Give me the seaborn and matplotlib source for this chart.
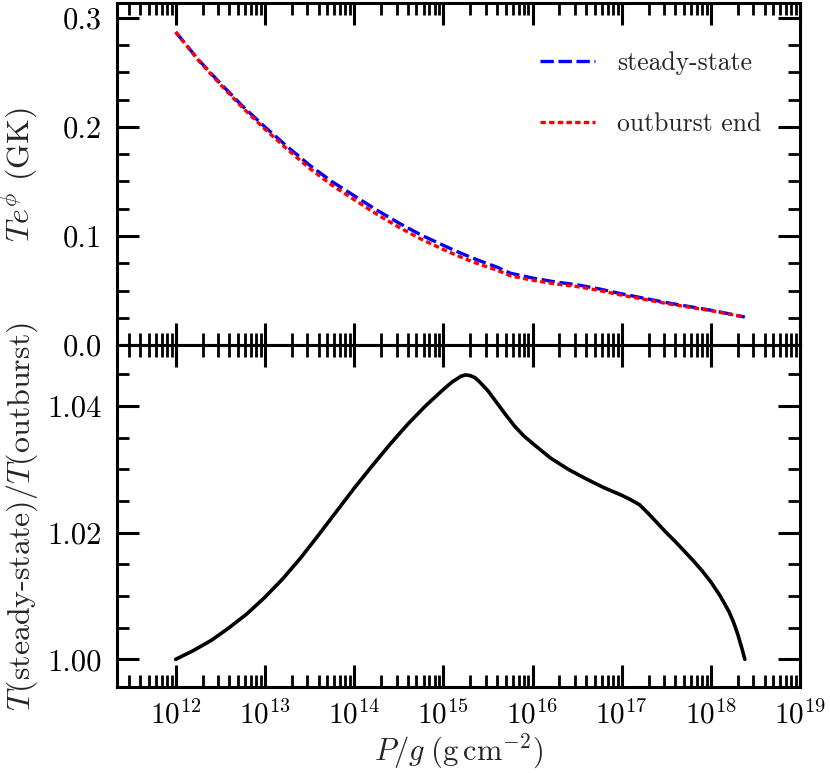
import numpy as np
import pandas as pd
import matplotlib
matplotlib.use('Agg')
import matplotlib.pyplot as plt
import matplotlib.ticker as mticker
import seaborn as sns

# top panel: log10(P/g) and T e^phi in GK
log_pg = [12.0, 12.25, 12.5, 12.75, 13.0, 13.25, 13.5, 13.75, 14.0, 14.25,
          14.5, 14.75, 15.0, 15.1, 15.2, 15.3, 15.4, 15.5, 15.6, 15.75,
          16.0, 16.25, 16.5, 16.75, 17.0, 17.2, 17.5, 17.75, 18.0, 18.1,
          18.2, 18.3, 18.38]
temp_steady = [0.287, 0.262, 0.240, 0.219, 0.200, 0.182, 0.165, 0.150, 0.137, 0.124,
               0.112, 0.101, 0.0915, 0.0878, 0.0842, 0.0808, 0.0776, 0.0745, 0.0716, 0.0660,
               0.0615, 0.0580, 0.0553, 0.0515, 0.0470, 0.0438, 0.0390, 0.0355, 0.0320, 0.0304,
               0.0288, 0.0270, 0.0258]
temp_outburst = [0.287, 0.2615, 0.239, 0.2176, 0.198, 0.1796, 0.1621, 0.1467, 0.1334, 0.1202,
                 0.1082, 0.0972, 0.0877, 0.0841, 0.0806, 0.0773, 0.0743, 0.0715, 0.0688, 0.0636,
                 0.0595, 0.0562, 0.0537, 0.0501, 0.0458, 0.0428, 0.0382, 0.0349, 0.0316, 0.0301,
                 0.0286, 0.0269, 0.0258]

# bottom panel: T(steady-state)/T(outburst)
log_pg_ratio = [12.0, 12.2, 12.4, 12.6, 12.8, 13.0, 13.2, 13.4, 13.6, 13.8,
                14.0, 14.2, 14.4, 14.6, 14.8, 14.9, 15.0, 15.1, 15.2, 15.25,
                15.3, 15.35, 15.4, 15.5, 15.6, 15.7, 15.8, 15.9, 16.0, 16.2,
                16.4, 16.6, 16.8, 17.0, 17.1, 17.2, 17.3, 17.4, 17.5, 17.6,
                17.7, 17.8, 17.9, 18.0, 18.1, 18.2, 18.25, 18.3, 18.35, 18.38]
temp_ratio = [1.0000, 1.0014, 1.0030, 1.0050, 1.0072, 1.0098, 1.0127, 1.0160, 1.0196, 1.0233,
              1.0270, 1.0305, 1.0339, 1.0371, 1.0400, 1.0413, 1.0426, 1.0438, 1.0447, 1.0449,
              1.0448, 1.0445, 1.0439, 1.0424, 1.0405, 1.0386, 1.0368, 1.0353, 1.0341, 1.0318,
              1.0300, 1.0285, 1.0271, 1.0259, 1.0252, 1.0244, 1.0230, 1.0215, 1.0200, 1.0186,
              1.0171, 1.0156, 1.0140, 1.0122, 1.0101, 1.0076, 1.0060, 1.0040, 1.0016, 1.0000]

df_temp = pd.DataFrame({
    "pg": np.power(10.0, log_pg),
    "steady": temp_steady,
    "outburst": temp_outburst,
})
df_ratio = pd.DataFrame({
    "pg": np.power(10.0, log_pg_ratio),
    "ratio": temp_ratio,
})

sns.set_theme(style="ticks")
plt.rcParams.update({
    "font.family": "serif",
    "font.serif": ["cmr10", "DejaVu Serif"],
    "mathtext.fontset": "cm",
    "axes.formatter.use_mathtext": True,
    "axes.linewidth": 2.2,
    "axes.edgecolor": "black",
    "xtick.direction": "in",
    "ytick.direction": "in",
    "xtick.top": True,
    "ytick.right": True,
    "xtick.major.size": 16,
    "xtick.minor.size": 8.5,
    "ytick.major.size": 16,
    "ytick.minor.size": 8.5,
    "xtick.major.width": 2.2,
    "xtick.minor.width": 2.0,
    "ytick.major.width": 2.2,
    "ytick.minor.width": 2.0,
    "xtick.color": "black",
    "ytick.color": "black",
    "xtick.labelsize": 21,
    "ytick.labelsize": 22,
    "xtick.major.pad": 9,
    "ytick.major.pad": 11,
})

fig, (ax_top, ax_bot) = plt.subplots(2, 1, figsize=(8.3, 7.73), dpi=100, sharex=True)
fig.subplots_adjust(left=0.141, right=0.964, top=0.996, bottom=0.111, hspace=0.0)

sns.lineplot(data=df_temp, x="pg", y="steady", ax=ax_top, color="blue", lw=2.4,
             linestyle=(0, (4, 1.4)), label="steady-state")
sns.lineplot(data=df_temp, x="pg", y="outburst", ax=ax_top, color="red", lw=2.4,
             linestyle=(0, (1.6, 1.0)), label="outburst end")
sns.lineplot(data=df_ratio, x="pg", y="ratio", ax=ax_bot, color="black", lw=2.6)

decades = [1e12, 1e13, 1e14, 1e15, 1e16, 1e17, 1e18, 1e19]
for ax in (ax_top, ax_bot):
    ax.set_xscale("log")
    ax.set_xlim(2.2e11, 1e19)
    ax.xaxis.set_major_locator(mticker.FixedLocator(decades))
    ax.xaxis.set_major_formatter(mticker.LogFormatterSciNotation())
    ax.xaxis.set_minor_locator(mticker.LogLocator(base=10, subs=np.arange(2, 10), numticks=20))
    ax.xaxis.set_minor_formatter(mticker.NullFormatter())
    ax.tick_params(which="both", top=True, right=True, direction="in")

ax_top.set_ylim(0.0, 0.3135)
ax_top.yaxis.set_major_locator(mticker.MultipleLocator(0.1))
ax_top.yaxis.set_minor_locator(mticker.MultipleLocator(0.025))
ax_top.yaxis.set_major_formatter(mticker.FormatStrFormatter("%.1f"))
ax_top.tick_params(axis="x", labelbottom=False)
ax_top.set_xlabel("")
ax_top.set_ylabel(r"$Te^{\phi}$ (GK)", fontsize=23, labelpad=5)

ax_bot.set_ylim(0.9956, 1.0496)
ax_bot.yaxis.set_major_locator(mticker.MultipleLocator(0.02))
ax_bot.yaxis.set_minor_locator(mticker.MultipleLocator(0.005))
ax_bot.yaxis.set_major_formatter(mticker.FormatStrFormatter("%.2f"))
ax_bot.set_ylabel(r"$T$(steady-state)$/T$(outburst)", fontsize=23, labelpad=5)
ax_bot.set_xlabel(r"$P/g\;(\mathrm{g\,cm^{-2}})$", fontsize=22, labelpad=2)

ax_top.legend(loc="upper left", bbox_to_anchor=(0.60, 0.897), frameon=False,
              fontsize=18.5, handlelength=2.15, handletextpad=0.85, labelspacing=1.45,
              borderpad=0)

fig.align_ylabels([ax_top, ax_bot])
fig.savefig("out.png", dpi=100)
